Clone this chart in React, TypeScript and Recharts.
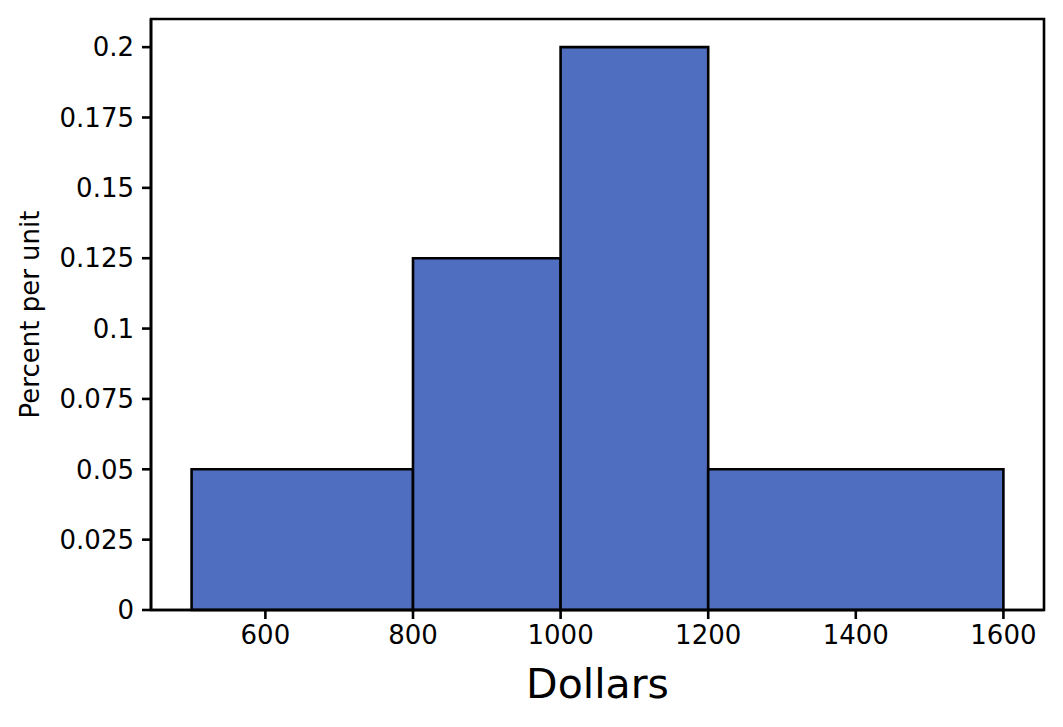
import React from "react";
import {
  ComposedChart,
  Line,
  ReferenceArea,
  XAxis,
  YAxis,
} from "recharts";

// histogram bins (dollars) and heights (percent per unit)
const binStarts = [500, 800, 1000, 1200];
const binEnds = [800, 1000, 1200, 1600];
const heights = [0.05, 0.125, 0.2, 0.05];

const xTicks = [600, 800, 1000, 1200, 1400, 1600];
const yTicks = [0, 0.025, 0.05, 0.075, 0.1, 0.125, 0.15, 0.175, 0.2];
const yTickLabels = ["0", "0.025", "0.05", "0.075", "0.1", "0.125", "0.15", "0.175", "0.2"];

const X_DOMAIN: [number, number] = [445, 1655];
const Y_DOMAIN: [number, number] = [0, 0.21];

const FILL = "#4F6EBF";
const FONT = "DejaVu Sans, sans-serif";
const LINE_W = 2.6;

const bins = binStarts.map((start, i) => ({
  start,
  end: binEnds[i],
  mid: (start + binEnds[i]) / 2,
  height: heights[i],
}));

const tickStyle = { fill: "#000", fontSize: 26, fontFamily: FONT };

export default function App() {
  return (
    <div style={{ width: 1047, height: 711 }}>
      <ComposedChart
        width={1047}
        height={711}
        data={bins}
        margin={{ top: 11, right: 11, bottom: 0, left: 0 }}
      >
        <XAxis
          dataKey="mid"
          type="number"
          domain={X_DOMAIN}
          ticks={xTicks}
          allowDataOverflow
          height={109}
          tickSize={9}
          tickMargin={7}
          tick={tickStyle}
          axisLine={{ stroke: "#000", strokeWidth: LINE_W }}
          tickLine={{ stroke: "#000", strokeWidth: LINE_W }}
          label={{
            value: "Dollars",
            position: "insideBottom",
            offset: 21,
            fill: "#000",
            fontSize: 41,
            fontFamily: FONT,
          }}
        />
        <YAxis
          type="number"
          domain={Y_DOMAIN}
          ticks={yTicks}
          allowDataOverflow
          width={143}
          tickSize={9}
          tickMargin={8}
          tick={tickStyle}
          tickFormatter={(v: number) => yTickLabels[yTicks.indexOf(v)] ?? String(v)}
          axisLine={{ stroke: "#000", strokeWidth: LINE_W }}
          tickLine={{ stroke: "#000", strokeWidth: LINE_W }}
          label={{
            value: "Percent per unit",
            angle: -90,
            position: "insideLeft",
            offset: 22,
            fill: "#000",
            fontSize: 26,
            fontFamily: FONT,
            style: { textAnchor: "middle" },
          }}
        />
        {bins.map((b) => (
          <ReferenceArea
            key={b.start}
            x1={b.start}
            x2={b.end}
            y1={0}
            y2={b.height}
            fill={FILL}
            fillOpacity={1}
            stroke="#000"
            strokeWidth={LINE_W}
            ifOverflow="visible"
          />
        ))}
        {/* frame: top and right spines */}
        <ReferenceArea
          x1={X_DOMAIN[0]}
          x2={X_DOMAIN[1]}
          y1={Y_DOMAIN[0]}
          y2={Y_DOMAIN[1]}
          fill="none"
          stroke="#000"
          strokeWidth={LINE_W}
          ifOverflow="visible"
        />
        <Line
          dataKey="height"
          stroke="none"
          dot={false}
          activeDot={false}
          isAnimationActive={false}
        />
      </ComposedChart>
    </div>
  );
}
